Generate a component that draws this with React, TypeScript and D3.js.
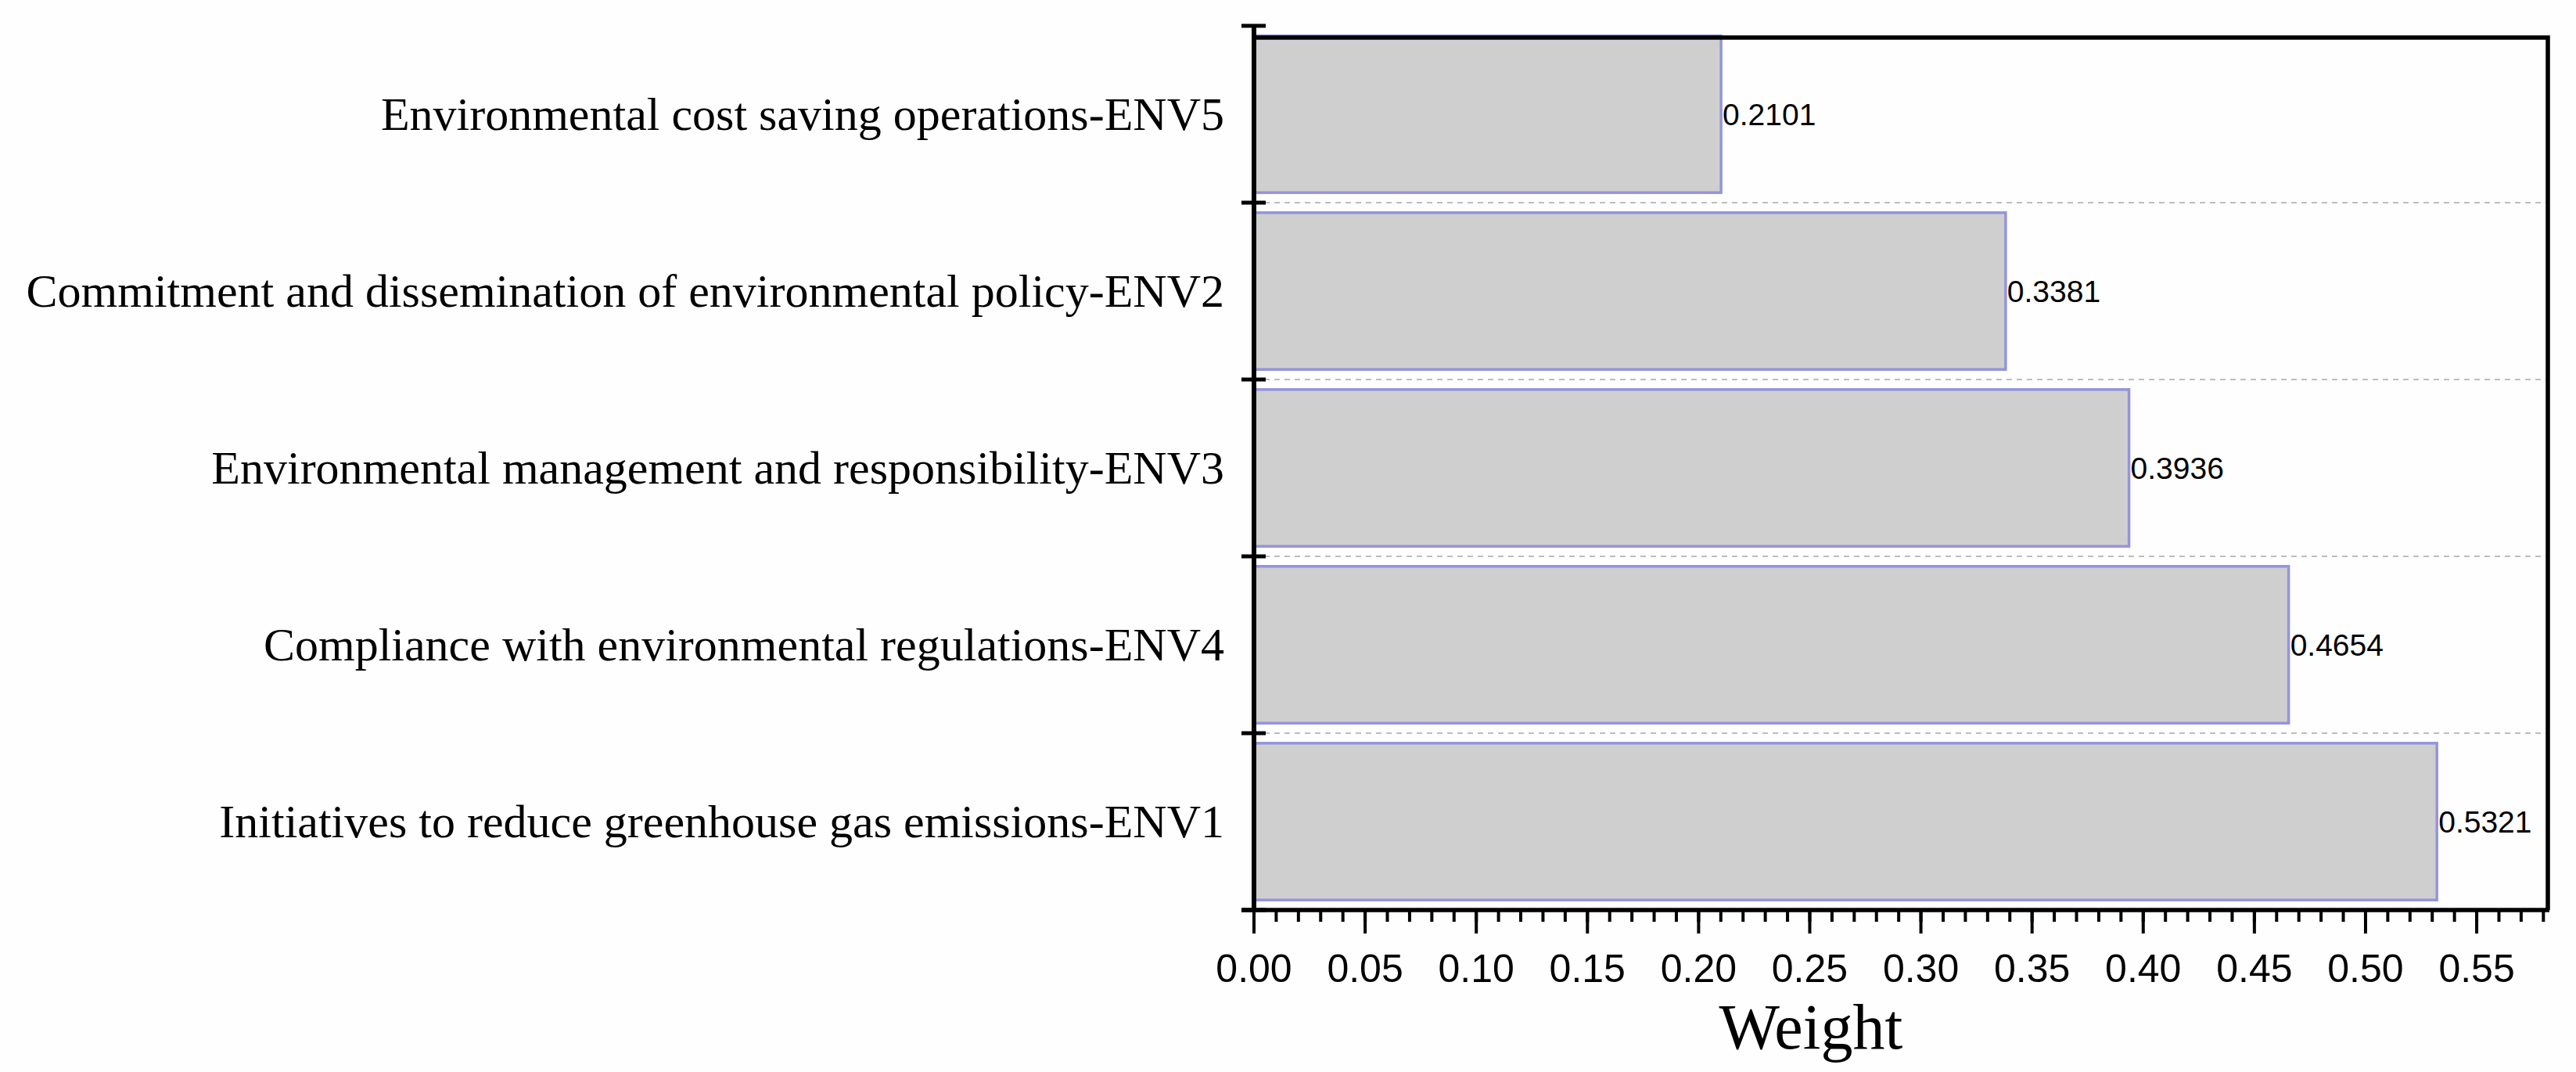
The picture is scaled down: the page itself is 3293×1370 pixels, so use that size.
import React, { useEffect, useRef } from 'react';
import * as d3 from 'd3';

// categories top -> bottom, as in the figure
const categories = [
    'Environmental cost saving operations-ENV5',
    'Commitment and dissemination of environmental policy-ENV2',
    'Environmental management and responsibility-ENV3',
    'Compliance with environmental regulations-ENV4',
    'Initiatives to reduce greenhouse gas emissions-ENV1',
];
const weights = [0.2101, 0.3381, 0.3936, 0.4654, 0.5321];
const majorTicks = [0, 0.05, 0.1, 0.15, 0.2, 0.25, 0.3, 0.35, 0.4, 0.45, 0.5, 0.55];
const minorTicks = d3.range(0, 59).map(i => i / 100);
const xLabel = 'Weight';

const W = 3293, H = 1370;

const App = () => {
    const ref = useRef<SVGSVGElement>(null);

    useEffect(() => {
        document.body.style.margin = '0';
        if (!ref.current) return;
        const svg = d3.select(ref.current);
        svg.selectAll('*').remove();

        const left = 1603, right = 3257, top = 33, bottom = 1163, frameTop = 48;
        const serif = "'Liberation Serif', 'Times New Roman', serif";
        const sans = "'Liberation Sans', Arial, sans-serif";

        const x = d3.scaleLinear().domain([0, 0.582]).range([left, right]);
        const y = d3.scaleBand<string>()
            .domain(categories)
            .range([top, bottom])
            .paddingInner(0.1)
            .paddingOuter(0.05);
        const step = y.step();
        const boundaries = categories.map(c => y(c)! - step * 0.05).concat([bottom]);

        svg.append('rect').attr('width', W).attr('height', H).attr('fill', '#fefefe');

        // dashed separators between categories
        svg.append('g').selectAll('line')
            .data(boundaries.slice(1, -1))
            .enter().append('line')
            .attr('x1', left).attr('x2', right)
            .attr('y1', d => d).attr('y2', d => d)
            .attr('stroke', '#bdbdbd')
            .attr('stroke-width', 2)
            .attr('stroke-dasharray', '7,6');

        // bars
        svg.append('g').selectAll('rect')
            .data(weights)
            .enter().append('rect')
            .attr('x', x(0))
            .attr('y', (d, i) => y(categories[i])! + 1.5)
            .attr('width', d => x(d) - x(0))
            .attr('height', y.bandwidth() - 3)
            .attr('fill', '#cfcfcf')
            .attr('stroke', '#9494dc')
            .attr('stroke-width', 3.5);

        // value labels
        svg.append('g').selectAll('text')
            .data(weights)
            .enter().append('text')
            .attr('x', d => x(d) + 2)
            .attr('y', (d, i) => y(categories[i])! + y.bandwidth() / 2)
            .attr('dy', '0.36em')
            .style('font-family', sans)
            .style('font-size', '39px')
            .attr('fill', '#000')
            .text(d => d.toFixed(4));

        // category labels
        svg.append('g').selectAll('text')
            .data(categories)
            .enter().append('text')
            .attr('x', 1565)
            .attr('y', d => y(d)! + y.bandwidth() / 2)
            .attr('dy', '0.33em')
            .attr('text-anchor', 'end')
            .style('font-family', serif)
            .style('font-size', '60px')
            .attr('fill', '#000')
            .text(d => d);

        // frame (top + right)
        svg.append('path')
            .attr('d', `M${left},${frameTop}H${right}V${bottom}`)
            .attr('fill', 'none')
            .attr('stroke', '#000')
            .attr('stroke-width', 5.5);

        // left axis with ticks at category boundaries
        svg.append('line')
            .attr('x1', left).attr('x2', left)
            .attr('y1', top - 2).attr('y2', bottom + 2)
            .attr('stroke', '#000').attr('stroke-width', 6);
        svg.append('g').selectAll('line')
            .data(boundaries)
            .enter().append('line')
            .attr('x1', left - 16).attr('x2', left + 15)
            .attr('y1', d => d).attr('y2', d => d)
            .attr('stroke', '#000').attr('stroke-width', 5);

        // bottom axis
        svg.append('line')
            .attr('x1', left - 16).attr('x2', right + 2)
            .attr('y1', bottom).attr('y2', bottom)
            .attr('stroke', '#000').attr('stroke-width', 5.5);
        svg.append('g').selectAll('line')
            .data(minorTicks)
            .enter().append('line')
            .attr('x1', d => x(d)).attr('x2', d => x(d))
            .attr('y1', bottom).attr('y2', bottom + 15)
            .attr('stroke', '#000').attr('stroke-width', 4);
        svg.append('g').selectAll('line')
            .data(majorTicks)
            .enter().append('line')
            .attr('x1', d => x(d)).attr('x2', d => x(d))
            .attr('y1', bottom).attr('y2', bottom + 30)
            .attr('stroke', '#000').attr('stroke-width', 4);
        svg.append('g').selectAll('text')
            .data(majorTicks)
            .enter().append('text')
            .attr('x', d => x(d))
            .attr('y', 1255)
            .attr('text-anchor', 'middle')
            .style('font-family', sans)
            .style('font-size', '50px')
            .attr('fill', '#000')
            .text(d => d3.format('.2f')(d));

        svg.append('text')
            .attr('x', x(0.2505))
            .attr('y', 1340)
            .attr('text-anchor', 'middle')
            .style('font-family', serif)
            .style('font-size', '82px')
            .attr('fill', '#000')
            .text(xLabel);
    }, []);

    return <svg ref={ref} width={W} height={H} style={{ display: 'block' }} />;
};

export default App;
